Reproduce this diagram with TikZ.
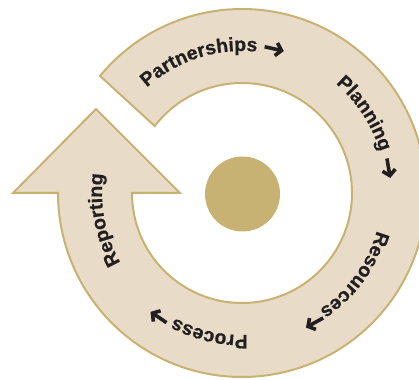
\documentclass[tikz,border=0pt]{standalone}
\usepackage{fontspec}
\setmainfont{Liberation Sans}
\newfontfamily\lblfam[BoldFeatures={FakeBold=0.6}]{Liberation Sans}
\usetikzlibrary{decorations.text,arrows.meta}
\definecolor{ringfill}{HTML}{E8DCC8}
\definecolor{ringline}{HTML}{C8B273}
\definecolor{dotfill}{HTML}{C8B273}
\definecolor{labeltext}{HTML}{231F20}
\newcommand\lblfont{\lblfam\fontsize{19.5}{19.5}\selectfont\bfseries}
\begin{document}
\begin{tikzpicture}[
  ring/.style={fill=ringfill, draw=ringline, line width=2pt, line join=miter},
  cycarrow/.style={draw=labeltext, line width=3.6pt, -{Straight Barb[length=5.5pt,width=13pt]}},
  arclabel/.style={decorate, decoration={text along path, text align=center, text color=labeltext, text={|\lblfont|#1}}}
]
\useasboundingbox (-242pt,-186pt) rectangle (177pt,193pt);
\path[ring] (140.5:184pt) arc[start angle=140.5, end angle=-180, radius=184pt]
  -- (-229pt,0pt) -- (-146pt,84pt) -- (-62pt,0pt) -- (-110pt,0pt)
  arc[start angle=-180, end angle=142.5, radius=110pt] -- cycle;
\node[circle, fill=dotfill, minimum size=75pt, inner sep=0pt] (hub) at (0.5pt,-1pt) {};
\path[arclabel=Partnerships] (150:142pt) arc[start angle=150, end angle=66, radius=142pt];
\path[arclabel=Planning] (75:144pt) arc[start angle=75, end angle=-9, radius=144pt];
\path[arclabel=Resources] (6:140pt) arc[start angle=6, end angle=-78, radius=140pt];
\path[arclabel=Process] (-61:142pt) arc[start angle=-61, end angle=-145, radius=142pt];
\path[arclabel=Reporting] (233:140pt) arc[start angle=233, end angle=149, radius=140pt];
\coordinate (a1s) at (81.2:148pt); \coordinate (a1e) at (73.6:148pt);
\coordinate (a2s) at (13.4:149pt); \coordinate (a2e) at (5.8:149pt);
\coordinate (a3s) at (-57:149pt); \coordinate (a3e) at (-64.6:149pt);
\coordinate (a4s) at (-120.2:150pt); \coordinate (a4e) at (-127.6:150pt);
\draw[cycarrow] (a1s) -- (a1e);
\draw[cycarrow] (a2s) -- (a2e);
\draw[cycarrow] (a3s) -- (a3e);
\draw[cycarrow] (a4s) -- (a4e);
\end{tikzpicture}
\end{document}
